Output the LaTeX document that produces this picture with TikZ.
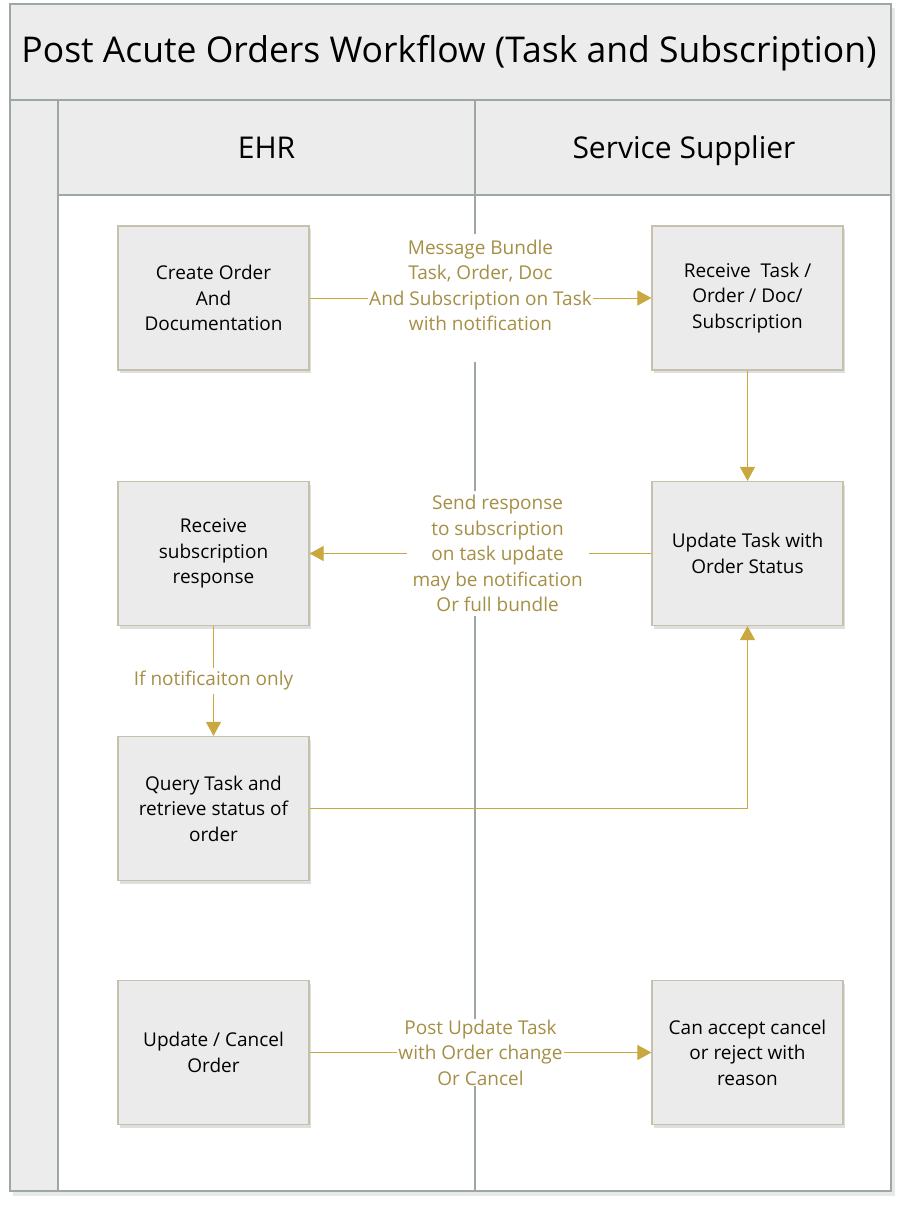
\documentclass[tikz,border=0pt]{standalone}
\usepackage{fontspec}
\setmainfont{Open Sans}
\usetikzlibrary{arrows.meta,shadows}
\definecolor{framefill}{HTML}{ECECEC}
\definecolor{frameline}{HTML}{9DA8A6}
\definecolor{boxfill}{HTML}{EBEBEB}
\definecolor{boxline}{HTML}{C5C1AC}
\definecolor{gold}{HTML}{C9A83F}
\definecolor{goldtext}{HTML}{A58F45}
\tikzset{
  stepbox/.style={draw=boxline, line width=1.2pt, fill=boxfill, minimum width=191pt, minimum height=144pt,
    align=center, font=\fontsize{19}{25.5}\selectfont, text=black, inner sep=2pt,
    drop shadow={shadow xshift=2pt, shadow yshift=-3pt, opacity=0.25, fill=gray}},
  flow/.style={draw=gold, line width=1pt, -{Triangle[length=14pt,width=15pt]}},
  flowlabel/.style={fill=white, text=goldtext, align=center, font=\fontsize{19}{25.5}\selectfont, inner sep=1pt},
  lanehead/.style={font=\fontsize{30}{35}\selectfont, text=black, anchor=base},
}
\begin{document}
\begin{tikzpicture}[x=1pt,y=-1pt]
\useasboundingbox (0,0) rectangle (902,1206);
\fill[white] (0,0) rectangle (902,1206);
% frame shadow
\fill[gray,opacity=0.18] (13,8) rectangle (895,1196);
% outer frame
\fill[white] (10,4) rectangle (891,1191);
\fill[framefill] (10,4) rectangle (891,100);
\fill[framefill] (10,100) rectangle (58,1191);
\fill[framefill] (58,100) rectangle (891,195);
\draw[frameline, line width=1.3pt] (10,4) rectangle (891,1191);
\draw[frameline, line width=1.3pt] (10,100) -- (891,100);
\draw[frameline, line width=1.3pt] (58,100) -- (58,1191);
\draw[frameline, line width=1.3pt] (58,195) -- (891,195);
\draw[frameline, line width=1.3pt] (475,100) -- (475,1191);
% texts
\node[font=\fontsize{35.5}{42}\selectfont, anchor=base] (title) at (449,63) {Post Acute Orders Workflow (Task and Subscription)};
\node[lanehead] (ehr) at (266.5,159) {EHR};
\node[lanehead] (ss) at (684,159) {Service Supplier};
% boxes
\node[stepbox] (create) at (213.5,298) {Create Order\\And\\Documentation};
\node[stepbox] (rtask) at (747.5,298) {Receive\ \ Task /\\Order / Doc/\\Subscription};
\node[stepbox] (rsub) at (213.5,553.5) {Receive\\subscription\\response};
\node[stepbox] (utask) at (747.5,553.5) {Update Task with\\Order Status};
\node[stepbox] (query) at (213.5,808.5) {Query Task and\\retrieve status of\\order};
\node[stepbox] (ucancel) at (213.5,1052.5) {Update / Cancel\\Order};
\node[stepbox] (accept) at (747.5,1052.5) {Can accept cancel\\or reject with\\reason};
% connectors
\draw[flow] (create) -- node[flowlabel, inner ysep=6pt] (l1) {Message Bundle\\Task, Order, Doc\\And Subscription on Task\\with notification\\\mbox{}} (rtask);
\draw[flow] (rtask) -- (utask);
\draw[flow] (utask) -- node[flowlabel, inner xsep=6pt, inner ysep=4pt, pos=0.45] (l2) {Send response\\to subscription\\on task update\\may be notification\\Or full bundle} (rsub);
\draw[flow] (rsub) -- node[flowlabel, inner ysep=3pt] (l3) {If notificaiton only} (query);
\draw[flow] (query.east) -| (utask.south);
\draw[flow] (ucancel) -- node[flowlabel] (l4) {Post Update Task\\with Order change\\Or Cancel} (accept);
\end{tikzpicture}
\end{document}
